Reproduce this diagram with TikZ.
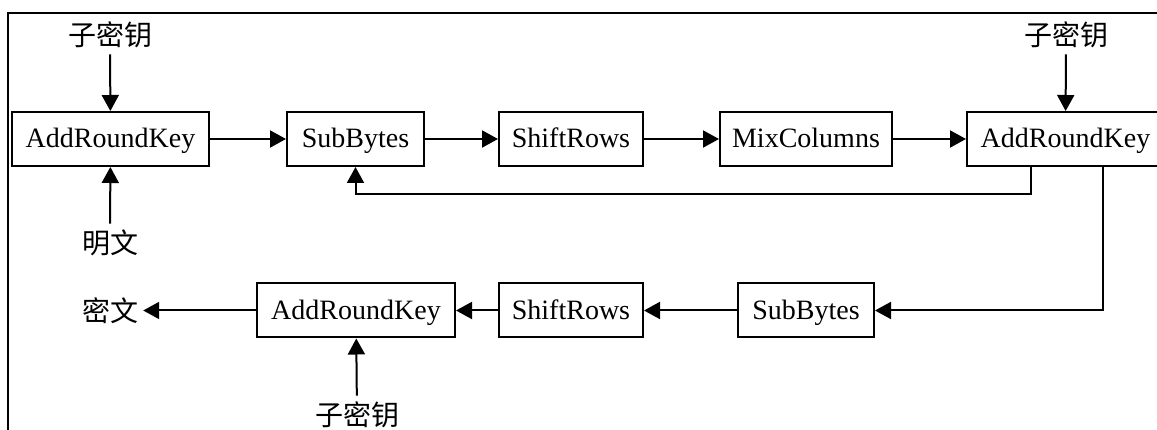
\documentclass[tikz,border=0pt]{standalone}
\usepackage{fontspec}
\setmainfont{Liberation Serif}
\newfontfamily\cjk{Noto Sans CJK SC}
\usetikzlibrary{arrows.meta}
\begin{document}
\begin{tikzpicture}[x=1pt,y=-1pt,
  box/.style={draw,line width=2pt,minimum height=54pt,inner sep=0pt,text height=21.5pt,text depth=4.1pt,font=\fontsize{28}{28}\selectfont},
  lbl/.style={inner sep=5pt,font=\cjk\fontsize{28}{28}\selectfont},
  arr/.style={line width=2pt,-{Triangle[length=16pt,width=17pt]}}]
\useasboundingbox (0,0) rectangle (1157,430);
\clip (0,0) rectangle (1157,430);
\draw[line width=2.6pt] (1157,13) -- (8,13) -- (8,430);
% top row
\node[box,minimum width=197pt] (a1) at (110.5,139) {AddRoundKey};
\node[box,minimum width=137pt] (s1) at (355.5,139) {SubBytes};
\node[box,minimum width=144pt] (r1) at (571,139) {ShiftRows};
\node[box,minimum width=172pt] (m1) at (806,139) {MixColumns};
\node[box,minimum width=197pt] (a2) at (1065.5,139) {AddRoundKey};
% bottom row
\node[box,minimum width=198pt] (a3) at (356,310.5) {AddRoundKey};
\node[box,minimum width=144pt] (r2) at (571,310.5) {ShiftRows};
\node[box,minimum width=136pt] (s2) at (806,310.5) {SubBytes};
% labels
\node[lbl,inner ysep=6pt] (k1) at (110,35) {子密钥};
\node[lbl,inner ysep=6pt] (k2) at (1066,35) {子密钥};
\node[lbl,inner ysep=6pt] (k3) at (357,415) {子密钥};
\node[lbl,inner ysep=6pt] (p) at (110,243) {明文};
\node[lbl] (c) at (110,310.5) {密文};
% connectors
\draw[arr] (k1) -- (a1);
\draw[arr] (k2) -- (a2);
\draw[arr] (p) -- (a1);
\draw[arr] (k3) -- (a3);
\draw[arr] (a1) -- (s1);
\draw[arr] (s1) -- (r1);
\draw[arr] (r1) -- (m1);
\draw[arr] (m1) -- (a2);
\coordinate (f1) at (1031,194);
\coordinate (d1) at (1103,311);
\draw[arr] (a2.south -| f1) -- (f1) -| (s1.south);
\draw[arr] (a2.south -| d1) |- (s2.east);
\draw[arr] (s2) -- (r2);
\draw[arr] (r2) -- (a3);
\draw[arr] (a3) -- (c);
\end{tikzpicture}
\end{document}
